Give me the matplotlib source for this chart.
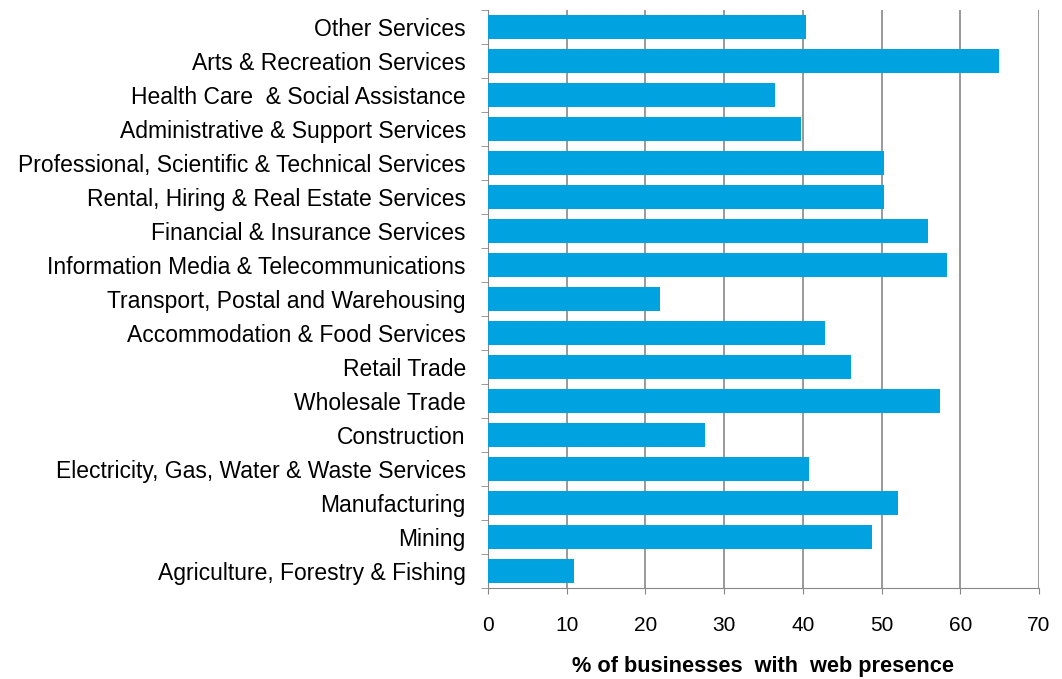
import matplotlib
matplotlib.use("Agg")
import matplotlib.pyplot as plt

plt.rcParams["font.family"] = ["Liberation Sans", "DejaVu Sans"]

industries = [
    "Other Services",
    "Arts & Recreation Services",
    "Health Care  & Social Assistance",
    "Administrative & Support Services",
    "Professional, Scientific & Technical Services",
    "Rental, Hiring & Real Estate Services",
    "Financial & Insurance Services",
    "Information Media & Telecommunications",
    "Transport, Postal and Warehousing",
    "Accommodation & Food Services",
    "Retail Trade",
    "Wholesale Trade",
    "Construction",
    "Electricity, Gas, Water & Waste Services",
    "Manufacturing",
    "Mining",
    "Agriculture, Forestry & Fishing",
]
web_presence = [40.4, 64.9, 36.5, 39.8, 50.3, 50.3, 55.9, 58.3, 21.9,
                42.8, 46.1, 57.4, 27.6, 40.8, 52.1, 48.8, 10.9]
x_ticks = [0, 10, 20, 30, 40, 50, 60, 70]

fig = plt.figure(figsize=(10.62, 6.79), dpi=100)
ax = fig.add_axes([488 / 1062, 1 - 588 / 679, (1039 - 488) / 1062, (588 - 10) / 679])

pos = list(range(len(industries)))
ax.barh(pos, web_presence, height=0.68, color="#00A2E0", zorder=3)

ax.set_ylim(len(industries) - 0.5, -0.5)
ax.set_xlim(0, 70)
ax.set_xticks(x_ticks)
ax.tick_params(axis="x", labelsize=15, length=4.5, color="#888888", pad=16)

# category labels without ticks, ticks placed at category boundaries
ax.set_yticks(pos)
ax.set_yticklabels(industries, fontsize=16.5)
ax.tick_params(axis="y", length=0, pad=16)
ax.set_yticks([p - 0.5 for p in pos] + [len(pos) - 0.5], minor=True)
ax.tick_params(axis="y", which="minor", length=5, color="#888888")

ax.grid(axis="x", color="#888888", linewidth=1.2, zorder=0)
for s in ["top", "right"]:
    ax.spines[s].set_visible(False)
for s in ["left", "bottom"]:
    ax.spines[s].set_color("#888888")

ax.set_xlabel("% of businesses  with  web presence", fontsize=15.7,
              fontweight="bold", labelpad=15)

plt.savefig("out.png", dpi=100)
